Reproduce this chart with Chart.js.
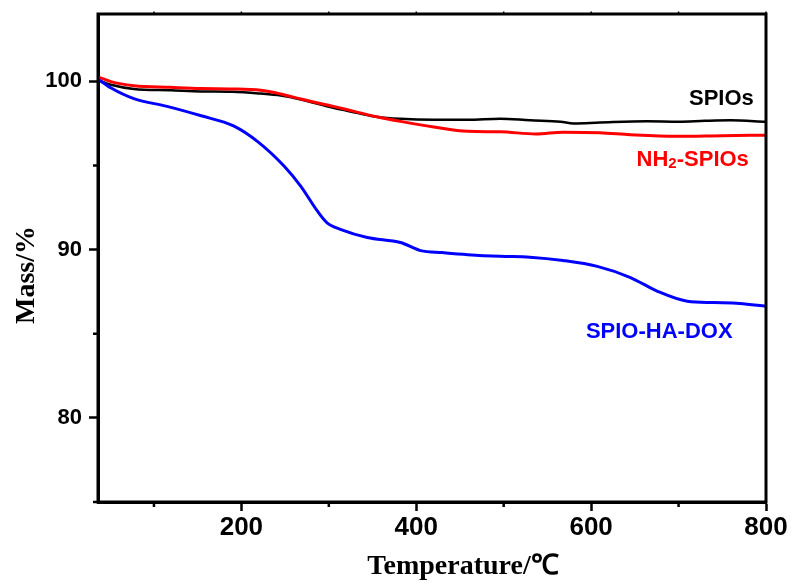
<!DOCTYPE html>
<html>
<head>
<meta charset="utf-8">
<script src="https://cdn.jsdelivr.net/npm/chart.js@4.4.1/dist/chart.umd.min.js"></script>
<style>
  html, body { margin: 0; padding: 0; background: #fff; }
  #wrap { width: 794px; height: 583px; position: relative; }
</style>
</head>
<body>
<div id="wrap"><canvas id="tga"></canvas></div>
<script>
// TGA curves (temperature in °C, mass in %)
const tempSPIOs = [36.7, 50.7, 77, 119, 154, 190, 222, 245, 268, 305, 330, 356, 382, 420, 459, 496, 530, 565, 580, 610, 664, 700, 730, 759, 800];
const massSPIOs = [100.05, 99.8, 99.55, 99.47, 99.4, 99.38, 99.27, 99.15, 98.92, 98.42, 98.15, 97.88, 97.77, 97.72, 97.72, 97.78, 97.68, 97.6, 97.5, 97.55, 97.62, 97.6, 97.65, 97.68, 97.6];

const tempNH2 = [36.7, 50.7, 77, 119, 154, 190, 222, 245, 268, 305, 330, 356, 382, 420, 459, 496, 537, 568, 610, 645, 697, 750, 800];
const massNH2 = [100.25, 99.98, 99.74, 99.64, 99.57, 99.55, 99.47, 99.25, 98.95, 98.51, 98.2, 97.88, 97.62, 97.29, 97.03, 97.0, 96.87, 96.98, 96.95, 96.83, 96.73, 96.77, 96.8];

const tempDOX = [36.7, 51, 77, 115, 154, 191, 219, 249, 268, 287, 298, 314, 344, 382, 405, 430, 459, 496, 530, 568, 607, 645, 676, 710, 740, 770, 800];
const massDOX = [100.1, 99.6, 98.97, 98.51, 97.95, 97.35, 96.4, 94.95, 93.76, 92.28, 91.59, 91.19, 90.72, 90.42, 89.94, 89.82, 89.7, 89.6, 89.55, 89.35, 89.0, 88.34, 87.52, 86.93, 86.85, 86.8, 86.63];

const xMajor = [200, 400, 600, 800];
const xMinor = [100, 300, 500, 700];
const yMajor = [80, 90, 100];
const yMinor = [75, 85, 95];

// curve labels, anchored in data units
const labelTexts = ['SPIOs', 'NH2-SPIOs', 'SPIO-HA-DOX'];
const labelX = [786, 652, 594];
const labelY = [98.95, 95.35, 85.13];

const sansBold = "bold 22px 'Liberation Sans', Arial, sans-serif";
const serifBold = "bold 28px 'Liberation Serif', 'Times New Roman', serif";

function pts(xs, ys) {
  return xs.map((x, i) => ({ x: x, y: ys[i] }));
}

const framePlugin = {
  id: 'frame',
  afterDraw(chart) {
    const ctx = chart.ctx;
    const a = chart.chartArea;
    const sx = chart.scales.x, sy = chart.scales.y;
    ctx.save();
    ctx.strokeStyle = '#000';
    ctx.lineWidth = 3;
    ctx.strokeRect(a.left, a.top, a.right - a.left, a.bottom - a.top);

    // minor ticks
    ctx.lineWidth = 2.5;
    ctx.beginPath();
    xMinor.forEach(v => {
      const p = sx.getPixelForValue(v);
      ctx.moveTo(p, a.bottom);
      ctx.lineTo(p, a.bottom + 5);
    });
    yMinor.forEach(v => {
      const p = sy.getPixelForValue(v);
      ctx.moveTo(a.left, p);
      ctx.lineTo(a.left - 5, p);
    });
    ctx.stroke();
    // little marks on the top edge
    ctx.lineWidth = 1.5;
    ctx.beginPath();
    xMajor.concat(xMinor).forEach(v => {
      const p = sx.getPixelForValue(v);
      ctx.moveTo(p, a.top);
      ctx.lineTo(p, a.top - 2.5);
    });
    ctx.stroke();

    // curve labels
    const colors = ['#000000', '#ff0000', '#0000ff'];
    ctx.textBaseline = 'middle';
    labelTexts.forEach((t, i) => {
      const px = sx.getPixelForValue(labelX[i]);
      const py = sy.getPixelForValue(labelY[i]);
      ctx.fillStyle = colors[i];
      ctx.font = sansBold;
      if (i === 0) {
        ctx.textAlign = 'right';
        ctx.fillText(t, px, py);
      } else if (t.indexOf('2') > 0) {
        ctx.textAlign = 'left';
        const parts = t.split('2');
        let x = px;
        ctx.fillText(parts[0], x, py);
        x += ctx.measureText(parts[0]).width;
        ctx.font = "bold 15px 'Liberation Sans', Arial, sans-serif";
        ctx.fillText('2', x, py + 4);
        x += ctx.measureText('2').width;
        ctx.font = sansBold;
        ctx.fillText(parts[1], x, py);
      } else {
        ctx.textAlign = 'left';
        ctx.fillText(t, px, py);
      }
    });

    // axis titles
    ctx.fillStyle = '#000';
    ctx.font = serifBold;
    ctx.textAlign = 'center';
    ctx.textBaseline = 'alphabetic';
    ctx.fillText('Temperature/\u2103', 463, 574);
    ctx.translate(34, 275);
    ctx.rotate(-Math.PI / 2);
    ctx.fillText('Mass/%', 0, 0);
    ctx.restore();
  }
};

new Chart(document.getElementById('tga'), {
  type: 'scatter',
  data: {
    datasets: [
      { label: 'SPIO-HA-DOX', data: pts(tempDOX, massDOX), borderColor: '#0000ff', borderWidth: 3, order: 0 },
      { label: 'NH2-SPIOs', data: pts(tempNH2, massNH2), borderColor: '#ff0000', borderWidth: 3, order: 1 },
      { label: 'SPIOs', data: pts(tempSPIOs, massSPIOs), borderColor: '#000000', borderWidth: 2.5, order: 2 }
    ]
  },
  options: {
    responsive: true,
    maintainAspectRatio: false,
    devicePixelRatio: 1,
    animation: false,
    showLine: true,
    layout: { padding: { left: 0, right: 28, top: 14, bottom: 0 } },
    elements: {
      point: { radius: 0, hoverRadius: 0 },
      line: { cubicInterpolationMode: 'monotone', fill: false, borderCapStyle: 'round' }
    },
    plugins: {
      legend: { display: false },
      tooltip: { enabled: false }
    },
    scales: {
      x: {
        type: 'linear',
        min: 36,
        max: 800,
        afterBuildTicks: s => { s.ticks = xMajor.map(v => ({ value: v })); },
        afterFit: s => { s.height = 81; s.paddingLeft = 0; s.paddingRight = 0; },
        ticks: {
          color: '#000',
          padding: 1,
          maxRotation: 0,
          autoSkip: false,
          font: { family: "'Liberation Sans', Arial, sans-serif", size: 26, weight: 'bold' }
        },
        grid: { drawOnChartArea: false, tickLength: 9, tickWidth: 2.5, tickColor: '#000' },
        border: { color: '#000', width: 3 }
      },
      y: {
        type: 'linear',
        min: 75,
        max: 104,
        afterBuildTicks: s => { s.ticks = yMajor.map(v => ({ value: v })); },
        afterFit: s => { s.width = 98; s.paddingTop = 0; s.paddingBottom = 0; },
        ticks: {
          color: '#000',
          padding: 7,
          font: { family: "'Liberation Sans', Arial, sans-serif", size: 22, weight: 'bold' }
        },
        grid: { drawOnChartArea: false, tickLength: 9, tickWidth: 2.5, tickColor: '#000' },
        border: { color: '#000', width: 3 }
      }
    }
  },
  plugins: [framePlugin]
});
</script>
</body>
</html>
